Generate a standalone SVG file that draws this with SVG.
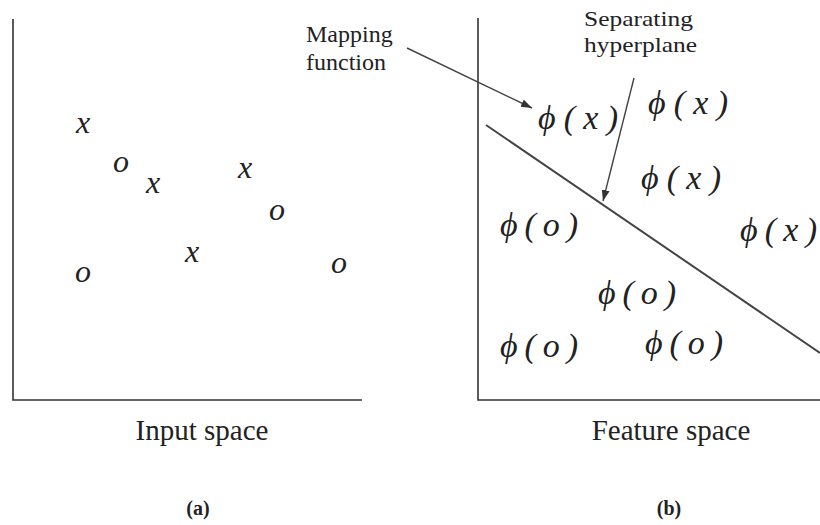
<svg xmlns="http://www.w3.org/2000/svg" width="820" height="525" viewBox="0 0 820 525">
<style>
.ax{stroke:#333;stroke-width:1.6;fill:none}
.pt{font-style:italic;font-size:32px;fill:#222;text-anchor:middle}
.phi{font-style:italic;font-size:34px;fill:#222}
.lbl{font-size:24px;fill:#222}
.cap{font-size:29px;fill:#222;text-anchor:middle}
.sub{font-size:20px;font-weight:bold;fill:#222;text-anchor:middle}
.conn{stroke:#444;stroke-width:1.4;fill:none}
</style>
<defs>
<marker id="ah" markerUnits="userSpaceOnUse" markerWidth="12" markerHeight="10" refX="11" refY="4" orient="auto">
<path d="M0,0 L11,4 L0,8 Z" fill="#333"/>
</marker>
</defs>
<rect width="820" height="525" fill="#fff"/>
<g font-family="Liberation Serif, serif">
<g id="input-space">
<path class="ax" d="M13,19 L13,400 L362,400"/>
<text class="pt" x="83" y="133">x</text>
<text class="pt" x="121" y="172">o</text>
<text class="pt" x="153" y="193">x</text>
<text class="pt" x="245" y="178">x</text>
<text class="pt" x="277" y="220">o</text>
<text class="pt" x="192" y="262">x</text>
<text class="pt" x="83" y="282">o</text>
<text class="pt" x="339" y="273">o</text>
<text class="cap" x="202" y="440">Input space</text>
<text class="sub" x="198" y="515">(a)</text>
</g>
<g id="feature-space">
<path class="ax" d="M478,18 L478,400 L820,400"/>
<text class="phi" x="538" y="129" textLength="80" lengthAdjust="spacing">ϕ(x)</text>
<text class="phi" x="648" y="114" textLength="80" lengthAdjust="spacing">ϕ(x)</text>
<text class="phi" x="641" y="189" textLength="80" lengthAdjust="spacing">ϕ(x)</text>
<text class="phi" x="500" y="236" textLength="78" lengthAdjust="spacing">ϕ(o)</text>
<text class="phi" x="740" y="241" textLength="77" lengthAdjust="spacing">ϕ(x)</text>
<text class="phi" x="598" y="304" textLength="78" lengthAdjust="spacing">ϕ(o)</text>
<text class="phi" x="500" y="357" textLength="78" lengthAdjust="spacing">ϕ(o)</text>
<text class="phi" x="645" y="354" textLength="78" lengthAdjust="spacing">ϕ(o)</text>
<text class="cap" x="671" y="440">Feature space</text>
<text class="sub" x="669" y="515">(b)</text>
</g>
<g id="hyperplane">
<line x1="486" y1="125" x2="820" y2="353" stroke="#444" stroke-width="2"/>
</g>
<g id="mapping-label">
<text class="lbl" x="306" y="42">Mapping</text>
<text class="lbl" x="306" y="70">function</text>
</g>
<g id="hyperplane-label">
<text class="lbl" x="584" y="26" textLength="109" lengthAdjust="spacingAndGlyphs" style="font-size:22px">Separating</text>
<text class="lbl" x="584" y="52" textLength="113" lengthAdjust="spacingAndGlyphs" style="font-size:22px">hyperplane</text>
</g>
</g>
<g id="connectors">
<line class="conn" x1="407" y1="48" x2="532" y2="108" marker-end="url(#ah)"/>
<line class="conn" x1="634" y1="78" x2="603" y2="201" marker-end="url(#ah)"/>
</g>
</svg>
